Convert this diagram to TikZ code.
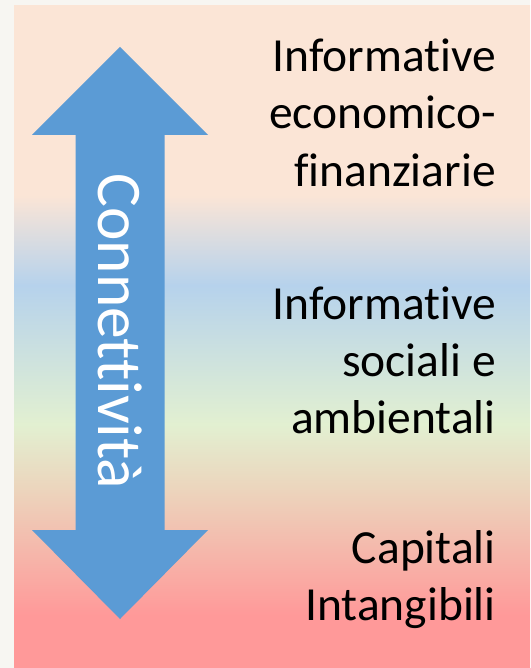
\documentclass[tikz,border=0pt]{standalone}
\usepackage{fontspec}
\setmainfont{Carlito}[Ligatures=NoCommon]

\definecolor{paper}{RGB}{247,246,242}
\definecolor{peach}{RGB}{251,229,214}
\definecolor{skyband}{RGB}{182,210,236}
\definecolor{greenband}{RGB}{226,240,209}
\definecolor{tanband}{RGB}{236,212,188}
\definecolor{pinkband}{RGB}{255,153,153}
\definecolor{arrowblue}{RGB}{91,155,213}

% colour bands of the panel, bottom (25bp) to top (75bp)
\pgfdeclareverticalshading{bands}{100bp}{color(0bp)=(pinkband); color(29bp)=(pinkband);
  color(38.4bp)=(tanband); color(43.4bp)=(greenband); color(53.9bp)=(skyband);
  color(60.7bp)=(peach); color(100bp)=(peach)}

\begin{document}
\begin{tikzpicture}[x=1pt,y=-1pt,
    infotext/.style={align=right, anchor=base east, inner sep=0pt,
      font=\fontsize{47.5}{57}\selectfont}]
    \useasboundingbox (0,0) rectangle (530,668);
    % Page and shaded panel
    \fill[paper] (0,0) rectangle (530,668);
    \shade[shading=bands] (14,6) rectangle (530,668);

    % Double arrow
    \fill[arrowblue] (120,47) -- (208,135) -- (164.5,135) -- (164.5,530) -- (208,530)
      -- (120,619) -- (32,530) -- (75.5,530) -- (75.5,135) -- (32,135) -- cycle;
    \node[rotate=-90, anchor=base, inner sep=0pt, text=white,
      font=\fontsize{63.5}{63.5}\selectfont] (conn) at (98,331.5) {Connettività};

    % Labels on the right (anchored at the last line)
    \node[infotext] (econ) at (496,186) {Informative\\economico-\\finanziarie};
    \node[infotext] (social) at (496,433) {Informative\\sociali e\\ambientali};
    \node[infotext] (capital) at (496,620) {Capitali\\Intangibili};
\end{tikzpicture}
\end{document}
